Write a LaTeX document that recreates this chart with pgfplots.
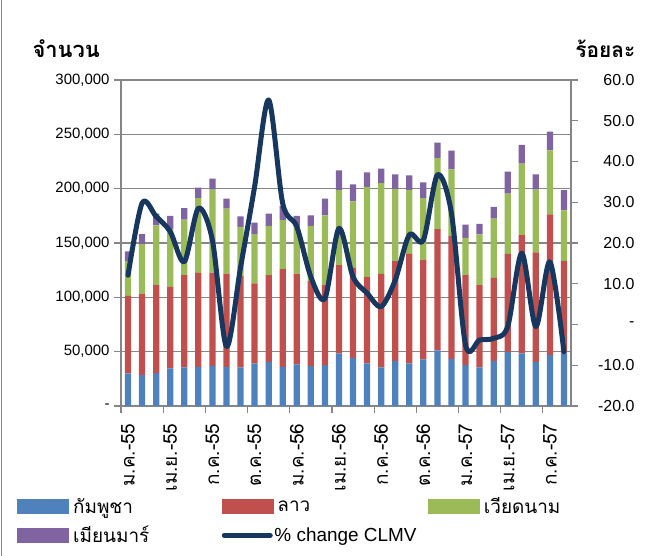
\documentclass[border=0pt]{standalone}
\usepackage{fontspec}
\setmainfont{Liberation Sans}
\newfontfamily\thaifont[Script=Thai]{Loma}
\usepackage{pgfplots}
\usepackage{pgfplotstable}
\pgfplotsset{compat=1.18}
\definecolor{cb}{HTML}{4F81BD}
\definecolor{cr}{HTML}{C0504D}
\definecolor{cg}{HTML}{9BBB59}
\definecolor{cp}{HTML}{8064A2}
\definecolor{cn}{HTML}{17375E}
\definecolor{gr}{HTML}{868686}
\pgfplotstableread{
x cam lao vie mya pct
0 30000 71400 31900 9100 12.1
1 28500 74400 46000 9200 29.8
2 30300 80900 55100 10800 26.5
3 34600 75000 53000 12300 22.8
4 35500 84900 51100 10500 15.4
5 36100 86400 68700 9800 28.5
6 37000 85800 76300 10100 20.7
7 36100 85800 59700 9200 -5.4
8 35500 84500 44800 9800 14.0
9 39200 73600 45300 10700 33.8
10 40700 79700 45300 11400 55.1
11 36100 89900 45000 13100 29.7
12 38300 83600 43800 9200 24.0
13 36800 78200 50700 9800 11.7
14 37700 73500 64300 15300 6.4
15 48400 81200 69000 18300 23.6
16 44400 82800 61200 15600 11.7
17 39200 79600 82900 13300 7.7
18 35500 86100 83500 13400 4.4
19 41600 91700 66200 13700 10.9
20 39200 100800 58600 13700 22.0
21 42900 91900 56400 14700 20.7
22 51200 111500 65300 14400 36.7
23 43300 113200 61300 17200 27.3
24 37700 82700 34300 12100 -5.0
25 35500 75700 46800 9700 -3.8
26 41600 76300 54500 10800 -3.4
27 49900 90100 55500 20100 -0.5
28 48400 108800 65900 17200 17.5
29 40700 100600 57800 14100 -0.5
30 46900 129500 58900 17100 15.4
31 48400 85100 46600 18500 -6.7
}\data
\begin{document}
\begin{tikzpicture}
\path[use as bounding box] (-121bp,-150bp) rectangle (529bp,406bp);
\draw[gr, line width=1.2bp] (-119.5bp,-150bp) -- (-119.5bp,406bp);
\begin{axis}[
  scale only axis, width=450bp, height=326bp,
  ybar stacked, bar width=6.2bp,
  xmin=-0.5, xmax=31.5, ymin=0, ymax=300000,
  scaled y ticks=false,
  axis line style={gr, line width=1.2bp},
  tick pos=left, tick align=outside,
  major tick length=7bp,
  every tick/.style={gr, line width=1.2bp},
  ytick={0,50000,100000,150000,200000,250000,300000},
  yticklabels={{-\hspace{5bp}},{50,000},{100,000},{150,000},{200,000},{250,000},{300,000}},
  yticklabel style={font=\fontsize{15}{15}\selectfont, xshift=-1bp},
  ymajorgrids, grid style={gr, line width=1.2bp},
  xtick={0,3,...,30},
  xticklabels={ม.ค.-55,เม.ย.-55,ก.ค.-55,ต.ค.-55,ม.ค.-56,เม.ย.-56,ก.ค.-56,ต.ค.-56,ม.ค.-57,เม.ย.-57,ก.ค.-57},
  xticklabel style={rotate=90, anchor=east, font=\thaifont\fontsize{19}{19}\selectfont, xshift=-7bp},
  major x tick style={draw=none},
  extra x ticks={-0.5,2.5,...,29.5},
  extra x tick labels={},
  extra x tick style={major x tick style={draw=gr, line width=1.2bp}, xmajorgrids=false},
  clip=false,
]
\addplot[fill=cb, draw=none] table[x=x, y=cam] {\data};
\addplot[fill=cr, draw=none] table[x=x, y=lao] {\data};
\addplot[fill=cg, draw=none] table[x=x, y=vie] {\data};
\addplot[fill=cp, draw=none] table[x=x, y=mya] {\data};
\node[anchor=base west, font=\thaifont\bfseries\fontsize{22}{22}\selectfont] at ([xshift=-92bp, yshift=23bp] rel axis cs:0,1) {จำนวน};
\node[anchor=base east, font=\thaifont\bfseries\fontsize{21}{21}\selectfont] at ([xshift=68bp, yshift=23bp] rel axis cs:1,1) {ร้อยละ};
\end{axis}
\begin{axis}[
  scale only axis, width=450bp, height=326bp,
  xmin=-0.5, xmax=31.5, ymin=-20, ymax=60,
  axis x line=none, axis y line*=right,
  axis line style={gr, line width=1.2bp, -},
  tick align=outside, major tick length=7bp,
  every tick/.style={gr, line width=1.2bp},
  ytick={-20,-10,0,10,20,30,40,50,60},
  yticklabels={-20.0,-10.0,{-\hspace{29bp}},10.0,20.0,30.0,40.0,50.0,60.0},
  yticklabel style={font=\fontsize{16}{16}\selectfont, anchor=east, xshift=60bp},
  clip=false,
  legend columns=3,
  legend style={draw=none, fill=none, inner sep=0pt, at={(rel axis cs:0,0)}, anchor=north west,
    xshift=-104bp, yshift=-90bp, font=\fontsize{19}{21}\selectfont,
    /tikz/every even column/.append style={column sep=0bp},
    row sep=8bp, nodes={inner sep=1.5bp, anchor=west}},
  legend cell align=left,
]
\addlegendimage{legend image code/.code={\fill[cb] (0bp,-7bp) rectangle (51bp,7bp);}}
\addlegendentry{\makebox[150bp][l]{\hspace{3bp}\thaifont กัมพูชา}}
\addlegendimage{legend image code/.code={\fill[cr] (0bp,-7bp) rectangle (51bp,7bp);}}
\addlegendentry{\makebox[152bp][l]{\hspace{3bp}\thaifont ลาว}}
\addlegendimage{legend image code/.code={\fill[cg] (0bp,-7bp) rectangle (51bp,7bp);}}
\addlegendentry{\makebox[152bp][l]{\hspace{3bp}\thaifont เวียดนาม}}
\addlegendimage{legend image code/.code={\fill[cp] (0bp,-7bp) rectangle (51bp,7bp);}}
\addlegendentry{\makebox[150bp][l]{\hspace{3bp}\thaifont เมียนมาร์}}
\addplot[cn, line width=5bp, line cap=round, line join=round, smooth, tension=0.5, mark=none,
  legend image code/.code={\draw[cn, line width=5bp, line cap=round] (2.5bp,0) -- (48.5bp,0);}]
  table[x=x, y=pct] {\data};
\addlegendentry{\makebox[152bp][l]{\% change CLMV}}
\end{axis}
\end{tikzpicture}
\end{document}
